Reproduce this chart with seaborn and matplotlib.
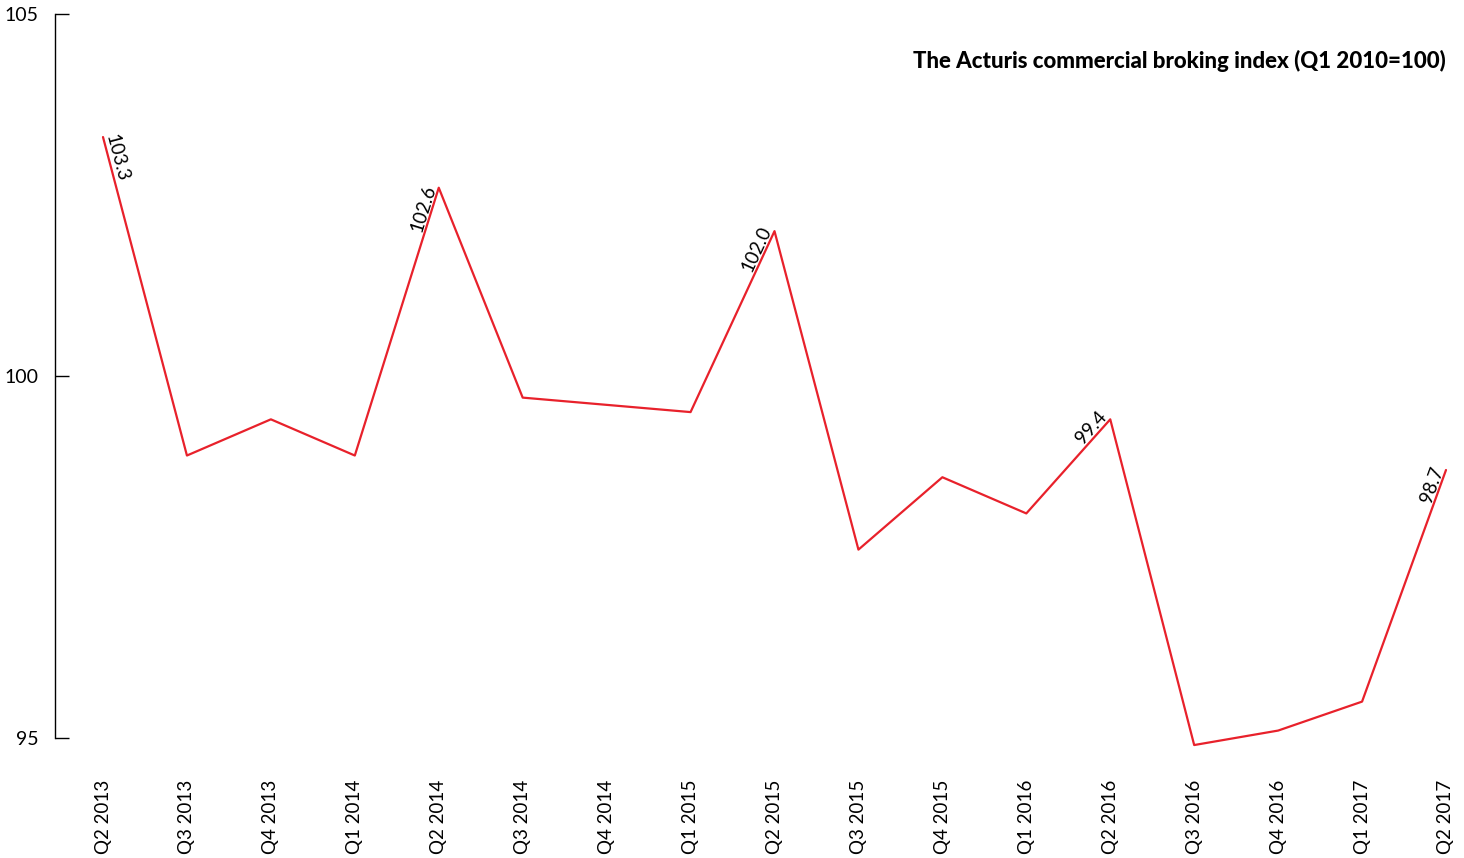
import numpy as np
import pandas as pd
import matplotlib
matplotlib.use("Agg")
import matplotlib.pyplot as plt
import seaborn as sns

quarters = ["Q2 2013", "Q3 2013", "Q4 2013", "Q1 2014", "Q2 2014", "Q3 2014",
            "Q4 2014", "Q1 2015", "Q2 2015", "Q3 2015", "Q4 2015", "Q1 2016",
            "Q2 2016", "Q3 2016", "Q4 2016", "Q1 2017", "Q2 2017"]
index_values = [103.3, 98.9, 99.4, 98.9, 102.6, 99.7, 99.6, 99.5, 102.0,
                97.6, 98.6, 98.1, 99.4, 94.9, 95.1, 95.5, 98.7]
labelled = [0, 4, 8, 12, 16]
y_ticks = [95, 100, 105]
title = "The Acturis commercial broking index (Q1 2010=100)"

sns.set_theme(style="white")
plt.rcParams['font.family'] = ['Lato', 'DejaVu Sans']

W, H = 1464, 858
fig = plt.figure(figsize=(W / 100, H / 100), dpi=100)
left_px, right_px, top_px, bot_px = 55, 1460, 14, 774
ax = fig.add_axes([left_px / W, 1 - bot_px / H, (right_px - left_px) / W, (bot_px - top_px) / H])

df = pd.DataFrame({"x": np.arange(len(quarters)), "value": index_values})
sns.lineplot(data=df, x="x", y="value", ax=ax, color="#e8212b", linewidth=1.6)

step = (1446 - 103) / 16
ax.set_xlim(-(103 - left_px) / step, 16 + (right_px - 1446) / step)
ax.set_ylim(94.5, 105)
ax.set_xticks(range(len(quarters)))
ax.set_xticklabels(quarters, rotation=90, fontsize=13.5)
ax.set_yticks(y_ticks)
ax.set_yticklabels([str(t) for t in y_ticks], fontsize=14)
ax.set_xlabel("")
ax.set_ylabel("")
for s in ["top", "right", "bottom"]:
    ax.spines[s].set_visible(False)
ax.spines["left"].set_bounds(95, 105)
ax.spines["left"].set_color("black")
ax.spines["left"].set_linewidth(1.0)
ax.tick_params(axis="y", left=True, direction="in", length=10, width=1.0,
               color="black", pad=12, labelcolor="black")
ax.tick_params(axis="x", bottom=False, length=0, pad=4, labelcolor="black")

fig.canvas.draw()
for i in labelled:
    if i == 0:
        a, b = i, i + 1
        ha = "left"
    else:
        a, b = i - 1, i
        ha = "right"
    p0 = ax.transData.transform((a, index_values[a]))
    p1 = ax.transData.transform((b, index_values[b]))
    ang = np.degrees(np.arctan2(p1[1] - p0[1], p1[0] - p0[0]))
    if ang > 90:
        ang -= 180
    if ang < -90:
        ang += 180
    ax.text(i, index_values[i], f"{index_values[i]:.1f}", rotation=ang,
            rotation_mode="anchor", ha=ha, va="bottom", fontsize=13.5,
            color="black", clip_on=False)

fig.text(1446 / W, 1 - 61 / H, title, ha="right", va="center",
         fontsize=16, fontweight="black", color="black")

fig.savefig("out.png", dpi=100)
